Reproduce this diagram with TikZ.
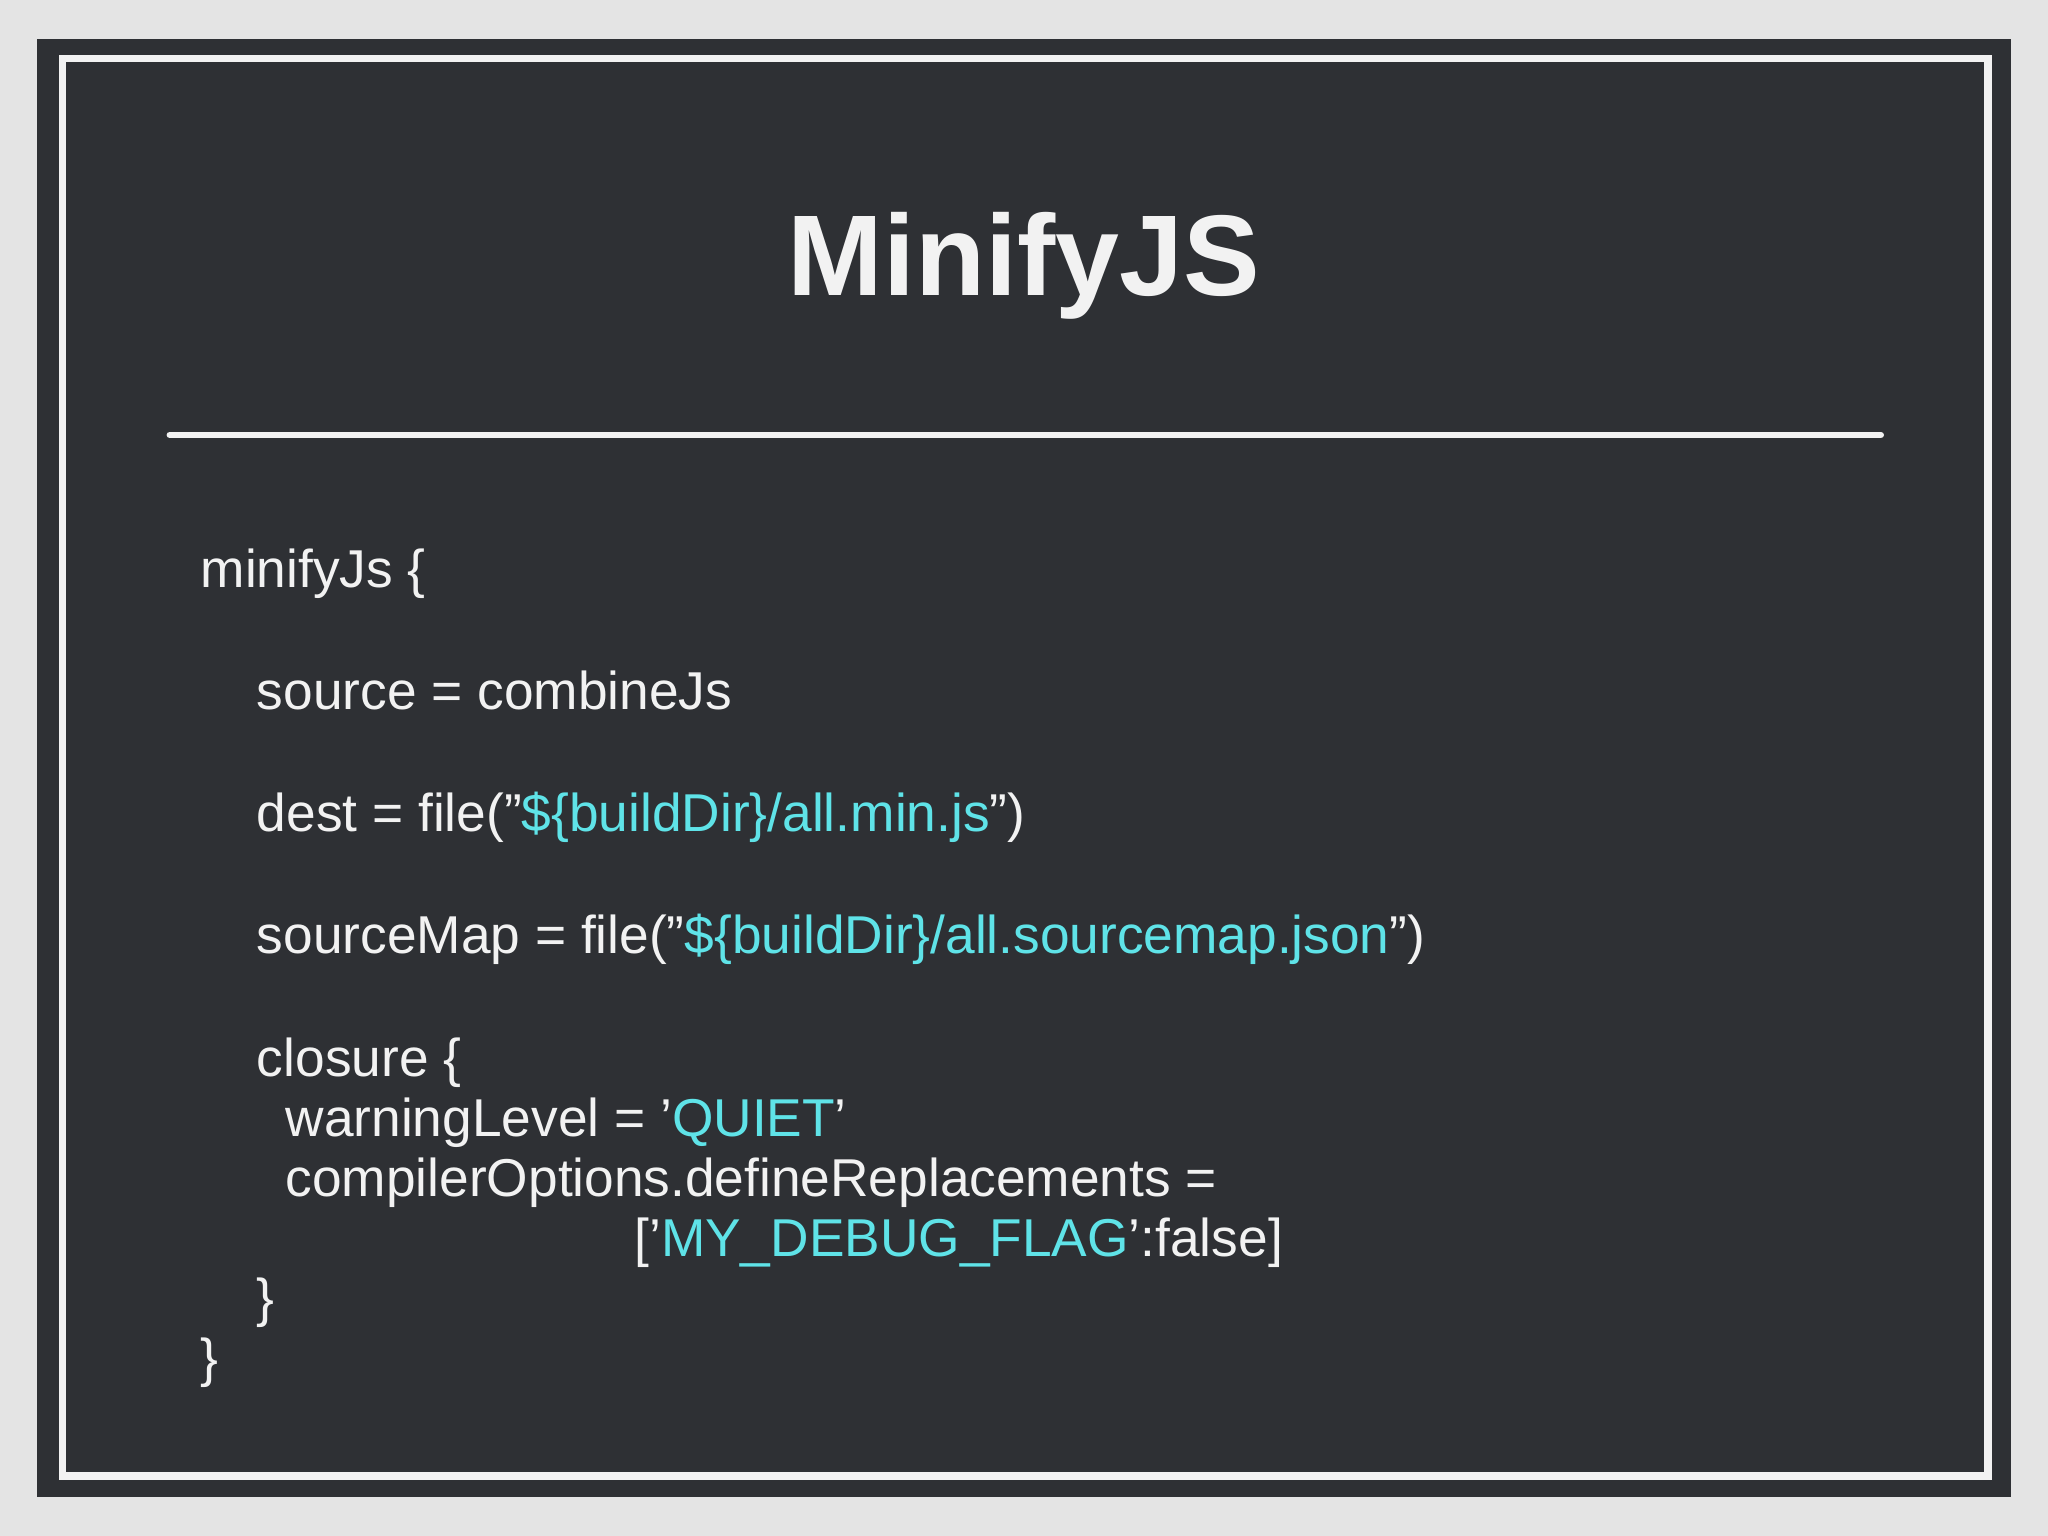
\documentclass[tikz,border=0pt]{standalone}
\usepackage{fontspec}
\setmainfont{Liberation Sans}
\usepackage{xcolor}
\definecolor{paper}{HTML}{E4E4E4}
\definecolor{slate}{HTML}{2E3034}
\definecolor{chalk}{HTML}{F2F2F2}
\definecolor{strcol}{HTML}{5FE3E8}
\newcommand{\str}[1]{\textcolor{strcol}{#1}}

\begin{document}
\begin{tikzpicture}[x=0.01cm,y=-0.01cm,
    every node/.style={anchor=base west,inner sep=0pt,text=chalk,
      font=\fontsize{11.6pt}{14pt}\selectfont}]
    
    \fill[paper] (0,0) rectangle (1568,1176);
    \fill[slate] (28,30) rectangle (1540,1146);
    \draw[chalk,line width=1.6pt] (48,45) rectangle (1522,1130);
    \draw[chalk,line width=1.4pt,line cap=round] (130,333) -- (1440,333);
    
    \node[anchor=base,font=\fontsize{25pt}{30pt}\bfseries] (title) at (784,226) {MinifyJS};
    
    \node (open)    at (153,450) {minifyJs \{};
    \node (source)  at (196,543) {source = combineJs};
    \node (dest)    at (196,637) {dest = file("\str{\$\{buildDir\}/all.min.js}")};
    \node (smap)    at (196,730) {sourceMap = file("\str{\$\{buildDir\}/all.sourcemap.json}")};
    \node (closure) at (196,824) {closure \{};
    \node (warn)    at (218,870) {warningLevel = '\str{QUIET}'};
    \node (opts)    at (218,916) {compilerOptions.defineReplacements =};
    \node (flag)    at (485,962) {['\str{MY\_DEBUG\_FLAG}':false]};
    \node (cclose)  at (196,1008) {\}};
    \node (close)   at (153,1054) {\}};
  \end{tikzpicture}
\end{document}
